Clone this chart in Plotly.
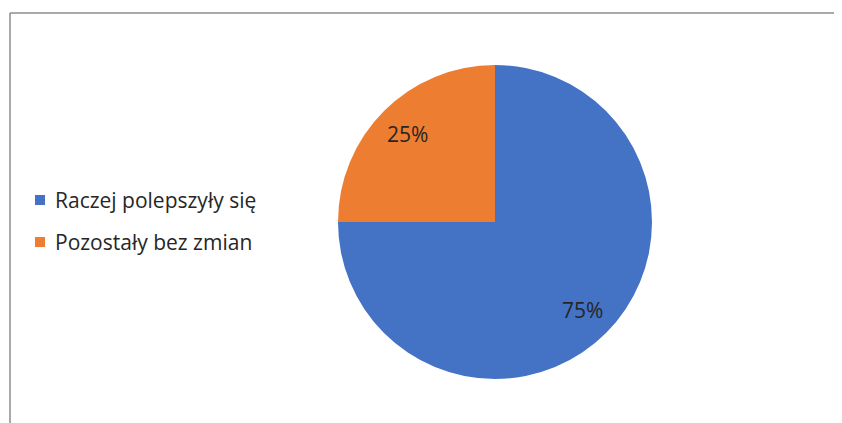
import math
import plotly.graph_objects as go

labels = ["Raczej polepszyły się", "Pozostały bez zmian"]
values = [75, 25]
colors = ["#4472C4", "#ED7D31"]

W, H = 842, 423
OFF = 8  # page body margin in the rendered html
cx, cy, r = 495 - OFF, 222 - OFF, 157
FONT = "Open Sans, Liberation Sans, Arial"

fig = go.Figure(go.Pie(
    labels=labels, values=values, sort=False, direction="clockwise", rotation=0,
    marker=dict(colors=colors, line=dict(width=0)),
    textinfo="none",
    domain=dict(x=[(cx - r) / W, (cx + r) / W], y=[1 - (cy + r) / H, 1 - (cy - r) / H]),
    showlegend=False, hoverinfo="label+percent",
))

shapes = [
    dict(type="line", xref="paper", yref="paper", x0=(10 - OFF) / W, x1=1,
         y0=1 - (13 - OFF) / H, y1=1 - (13 - OFF) / H,
         line=dict(color="#8C8C8C", width=1.5)),
    dict(type="line", xref="paper", yref="paper", x0=(10 - OFF) / W, x1=(10 - OFF) / W,
         y0=0, y1=1 - (13 - OFF) / H,
         line=dict(color="#8C8C8C", width=1.5)),
]
annotations = []

# percentage labels placed along each slice's mid-angle
total = sum(values)
start = 0.0
for v in values:
    mid = (start + v / 2) / total * 2 * math.pi  # clockwise from 12 o'clock
    start += v
    px = cx + 0.79 * r * math.sin(mid)
    py = cy - 0.79 * r * math.cos(mid)
    annotations.append(dict(xref="paper", yref="paper", x=px / W, y=1 - py / H,
                            xanchor="center", yanchor="middle", showarrow=False,
                            text=f"{round(v / total * 100)}%",
                            font=dict(family=FONT, size=21, color="#262626")))

leg_y0, leg_dy = 200 - OFF, 42
for i, (lab, col) in enumerate(zip(labels, colors)):
    yc = leg_y0 + i * leg_dy
    shapes.append(dict(type="rect", xref="paper", yref="paper",
                       x0=(35 - OFF) / W, x1=(45 - OFF) / W, y0=1 - (yc + 5) / H, y1=1 - (yc - 5) / H,
                       fillcolor=col, line=dict(width=0)))
    annotations.append(dict(xref="paper", yref="paper", x=(53 - OFF) / W, y=1 - yc / H,
                            xanchor="left", yanchor="middle", showarrow=False, text=lab,
                            font=dict(family=FONT, size=21, color="#262626")))

fig.update_layout(
    width=W, height=H, margin=dict(l=0, r=0, t=0, b=0),
    paper_bgcolor="white", plot_bgcolor="white",
    shapes=shapes, annotations=annotations,
)
fig.write_html("out.html")
